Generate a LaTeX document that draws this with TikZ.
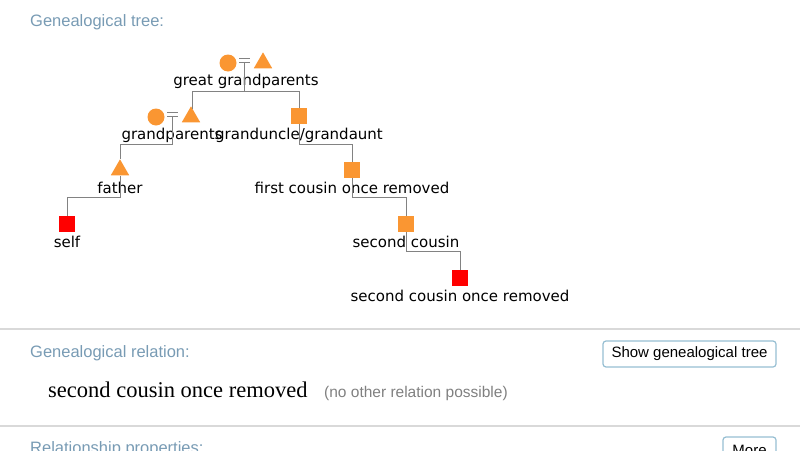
\documentclass[tikz,border=0pt]{standalone}
\usepackage{fontspec}
\setmainfont{DejaVu Sans}
\newfontfamily\headfont{Liberation Sans}
\newfontfamily\relfont{Liberation Serif}
\usetikzlibrary{positioning}
\usetikzlibrary{shapes.geometric}
\definecolor{orng}{RGB}{250,150,50}
\definecolor{headblue}{RGB}{120,155,180}
\definecolor{btnblue}{RGB}{150,190,210}
\definecolor{linegray}{RGB}{130,130,130}
\tikzset{
  male/.style={draw=none,fill=orng,minimum size=16pt,inner sep=0pt},
  self/.style={male,fill=red},
  female/.style={circle,fill=orng,minimum size=17pt,inner sep=0pt},
  tri/.style={isosceles triangle,isosceles triangle apex angle=60,shape border rotate=90,fill=orng,minimum height=16pt,inner sep=0pt},
  lbl/.style={font=\fontsize{15}{16}\selectfont,inner sep=0pt},
  link/.style={draw=linegray,line width=1pt},
  heading/.style={anchor=west,text=headblue,font=\headfont\fontsize{16.5}{17}\selectfont,inner sep=0pt},
  button/.style={draw=btnblue,line width=1.2pt,rounded corners=3pt,font=\headfont\fontsize{15}{16}\selectfont,inner sep=0pt}
}
\begin{document}
\begin{tikzpicture}[x=1pt,y=-1pt]
\useasboundingbox (0,0) rectangle (800,450);
\clip (0,0) rectangle (800,450);
\node[heading] (title) at (30,22) {Genealogical tree:};

% great grandparents
\node[female] (ggm) at (228,63) {};
\node[tri] (ggf) at (263,63) {};
\draw[link] (239,58) -- (250,58) (239,62) -- (250,62);
\coordinate (ggc) at (244,62);
\node[lbl] (gglbl) at (246,81) {great grandparents};
\coordinate (ggbar) at (244,91);
\draw[link] (ggc) -- (ggbar);
\draw[link] (192,91) -- (299,91);

% grandparents
\node[female] (gm) at (156,117) {};
\node[tri] (gf) at (191,117) {};
\draw[link] (167,112) -- (178,112) (167,116) -- (178,116);
\coordinate (gc) at (172,116);
\node[lbl] (glbl) at (172,135) {grandparents};
\draw[link] (192,91) -- (192,109);
\draw[link] (gc) -- (172,144) -- (120,144);

% granduncle
\node[male] (gu) at (299,116) {};
\node[lbl] (gulbl) at (299,135) {granduncle/grandaunt};
\draw[link] (299,91) -- (gu);

% father and self
\node[tri] (fa) at (120,170) {};
\node[lbl] (falbl) at (120,188) {father};
\draw[link] (120,144) -- (fa);
\node[self] (me) at (67,224) {};
\node[lbl] (melbl) at (67,242) {self};
\draw[link] (fa) -- (120,197) -- (67,197) -- (me);

% cousin line
\node[male] (fc) at (352,170) {};
\node[lbl] (fclbl) at (352,188) {first cousin once removed};
\draw[link] (gu) -- (299,144) -- (352,144) -- (fc);
\node[male] (sc) at (406,224) {};
\node[lbl] (sclbl) at (406,242) {second cousin};
\draw[link] (fc) -- (352,197) -- (406,197) -- (sc);
\node[self] (sco) at (460,278) {};
\node[lbl] (scolbl) at (460,296) {second cousin once removed};
\draw[link] (sc) -- (406,251) -- (460,251) -- (sco);

% relation panel
\draw[gray!30,line width=1.2pt] (0,329) -- (800,329) (0,426) -- (800,426);
\node[heading] (relhead) at (30,353) {Genealogical relation:};
\node[button,minimum width=173pt,minimum height=26pt] (showbtn) at (689.5,354) {Show genealogical tree};
\node[anchor=base west,inner sep=0pt,font=\relfont\fontsize{22.5}{23}\selectfont] (rel) at (48,397) {second cousin once removed};
\node[anchor=base west,inner sep=0pt,text=gray,font=\headfont\fontsize{15.5}{16}\selectfont] (relnote) at (324,397) {(no other relation possible)};
\node[heading] (prophead) at (30,449) {Relationship properties:};
\node[button,minimum width=53pt,minimum height=26pt] (morebtn) at (749.5,450) {More};
\end{tikzpicture}
\end{document}
